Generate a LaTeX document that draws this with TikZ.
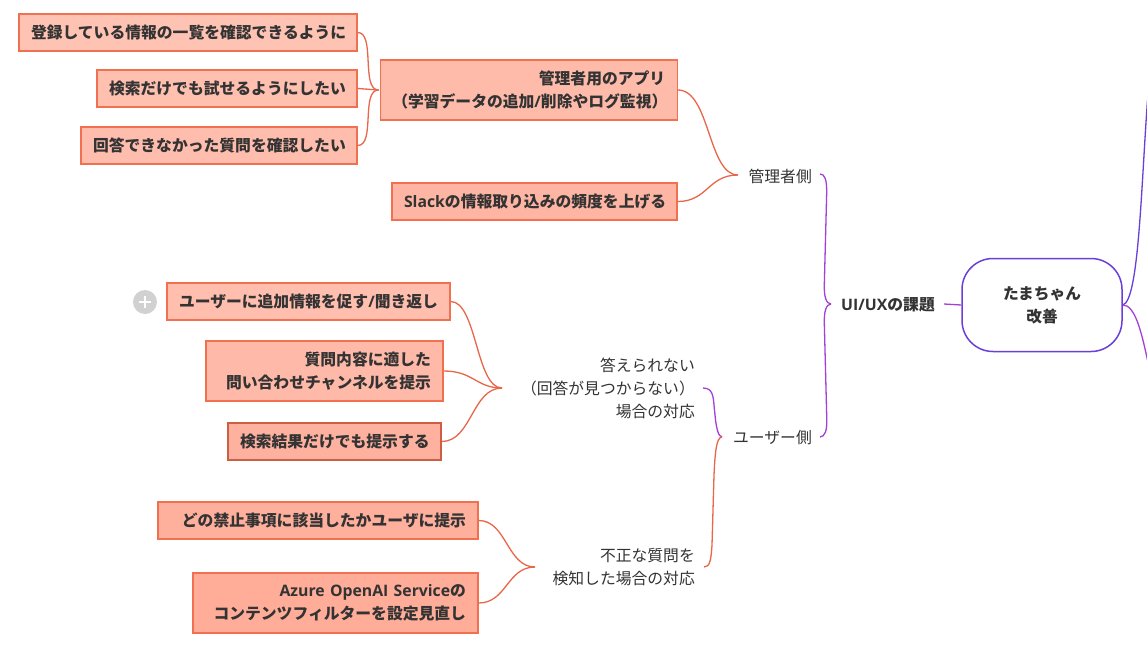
\documentclass[tikz,border=0pt]{standalone}
\usepackage{fontspec}
\setmainfont{Noto Sans CJK JP}
\newfontfamily\lat{Open Sans}
\definecolor{ink}{HTML}{333333}
\definecolor{edgeor}{HTML}{F0704F}
\definecolor{linkor}{HTML}{E8674A}
\definecolor{linkpu}{HTML}{A43FD8}
\definecolor{linkbl}{HTML}{6A3FD8}
\definecolor{f1}{HTML}{FFC3B4}
\definecolor{f2}{HTML}{FFC0B0}
\definecolor{f3}{HTML}{FFBDAD}
\definecolor{f4}{HTML}{FFBBAA}
\definecolor{f5}{HTML}{FFB5A3}
\definecolor{f6}{HTML}{FFBEAE}
\definecolor{f7}{HTML}{FFB9A8}
\definecolor{f8}{HTML}{FFB1A0}
\definecolor{f9}{HTML}{FFB09C}
\definecolor{f10}{HTML}{FFAD99}
\tikzset{
  x=1pt,y=-1pt,
  boxnode/.style n args={3}{draw=edgeor,line width=1.4pt,fill=#3,text=ink,font=\fontsize{15.8}{23}\selectfont\bfseries,
    align=right,inner xsep=12pt,inner ysep=0pt,text width=#1pt,minimum height=#2pt,anchor=center},
  plainnode/.style={text=ink,font=\fontsize{15.8}{23}\selectfont,align=right,inner sep=0pt},
  orlink/.style={draw=linkor,line width=1.3pt},
  pulink/.style={draw=linkpu,line width=1.3pt},
  bllink/.style={draw=linkbl,line width=1.3pt}
}
\begin{document}
\begin{tikzpicture}
\useasboundingbox (0,0) rectangle (1147,661);
\fill[white] (0,0) rectangle (1147,661);
% boxes
\node[boxnode={314}{37}{f1}] (b1) at (188,32.5) {登録している情報の一覧を確認できるように};
\node[boxnode={236}{37}{f2}] (b2) at (227,88.5) {検索だけでも試せるようにしたい};
\node[boxnode={252}{37}{f3}] (b3) at (219,145.5) {回答できなかった質問を確認したい};
\node[boxnode={273}{60}{f4}] (app) at (528.75,90) {管理者用のアプリ\\（学習データの追加{\lat /}削除やログ監視）};
\node[boxnode={261}{37}{f5}] (slack) at (534.5,201.5) {{\lat Slack}の情報取り込みの頻度を上げる};
\node[boxnode={259}{37}{f6}] (user) at (308.5,301.5) {ユーザーに追加情報を促す{\lat /}聞き返し};
\node[boxnode={213}{60}{f7}] (fit) at (324.5,371) {質問内容に適した\\問い合わせチャンネルを提示};
\node[boxnode={189}{37}{f8},draw=edgeor!85!black] (res) at (334.5,441.5) {検索結果だけでも提示する};
\node[boxnode={296}{37}{f9}] (kin) at (318,520.5) {どの禁止事項に該当したかユーザに提示};
\node[boxnode={261}{60}{f10}] (az) at (335.5,603) {{\lat Azure OpenAI Service}の\\コンテンツフィルターを設定見直し};
% centre
\node[draw=linkbl,line width=1.5pt,fill=white,rounded corners=31pt,minimum width=160pt,minimum height=93pt,inner sep=0pt,
  text=ink,font=\fontsize{15.7}{23}\selectfont\bfseries,align=center] (root) at (1042,305) {たまちゃん\\改善};
% labels
\node[plainnode,anchor=east] (admin) at (812,176) {管理者側};
\node[plainnode,anchor=east,font=\fontsize{15.8}{23}\selectfont\bfseries] (uiux) at (935,305) {{\lat UI/UX}の課題};
\node[plainnode,anchor=east] (side) at (812,438) {ユーザー側};
\node[plainnode,anchor=east] (noans) at (695,388) {答えられない\\（回答が見つからない）\\場合の対応};
\node[plainnode,anchor=east] (bad) at (695,567) {不正な質問を\\検知した場合の対応};
% plus icon
\node[circle,fill=black!18,minimum size=24pt,inner sep=0pt] (plus) at (145,302) {};
\draw[white,line width=2pt] ([xshift=-6pt]plus.center) -- ([xshift=6pt]plus.center);
\draw[white,line width=2pt] ([yshift=-6pt]plus.center) -- ([yshift=6pt]plus.center);
% junction coordinates
\coordinate (jApp) at ([xshift=-1pt]app.west);
\coordinate (jAdmin) at (738,175);
\coordinate (jNo) at (502,388);
\coordinate (jBad) at (535,567);
\coordinate (jUI) at (831,304);
\coordinate (jSide) at (722,437);
\coordinate (oAdmin) at (820,174);
\coordinate (oSide) at (820,437);
\coordinate (oNo) at (703,388);
\coordinate (oBad) at (704,567);
\coordinate (oUI) at (944,304);
\coordinate (topR) at (1147.5,100);
\coordinate (botR) at (1147.5,360);
% connectors
\draw[orlink] (b1.east) .. controls +(18,0) and ([xshift=-18pt]jApp) .. (jApp);
\draw[orlink] (b2.east) -- (jApp);
\draw[orlink] (b3.east) .. controls +(18,0) and ([xshift=-18pt]jApp) .. (jApp);
\draw[orlink] (app.east) .. controls +(32,0) and ([xshift=-30pt]jAdmin) .. (jAdmin);
\draw[orlink] (slack.east) .. controls +(30,0) and ([xshift=-30pt]jAdmin) .. (jAdmin);
\draw[orlink] (user.east) .. controls +(26,0) and ([xshift=-26pt]jNo) .. (jNo);
\draw[orlink] (fit.east) .. controls +(30,0) and ([xshift=-26pt]jNo) .. (jNo);
\draw[orlink] (res.east) .. controls +(30,0) and ([xshift=-30pt]jNo) .. (jNo);
\draw[orlink] (kin.east) .. controls +(28,0) and ([xshift=-28pt]jBad) .. (jBad);
\draw[orlink] (az.east) .. controls +(28,0) and ([xshift=-28pt]jBad) .. (jBad);
\draw[pulink] (oNo) .. controls +(12,0) and (713,400) .. (715,415) .. controls (716,426) and (718,437) .. (jSide);
\draw[orlink] (oBad) .. controls +(6,0) and (711,560) .. (712,545) -- (714,475) .. controls (715,455) and (716,437) .. (jSide);
\draw[pulink] (oAdmin) .. controls +(5,0) and (826.7,180) .. (826.7,192) -- (824.3,285) .. controls (824,296) and (826,304) .. (jUI);
\draw[pulink] (oSide) .. controls +(5,0) and (827,430) .. (826.8,420) -- (824.3,323) .. controls (824,312) and (826,304) .. (jUI);
\draw[pulink] (oUI) -- (root.west);
\draw[bllink] (root.east) .. controls +(16,-4) and (1141,190) .. (topR);
\draw[pulink] (root.east) .. controls +(12,0) and (1141,330) .. (botR);
\end{tikzpicture}
\end{document}
